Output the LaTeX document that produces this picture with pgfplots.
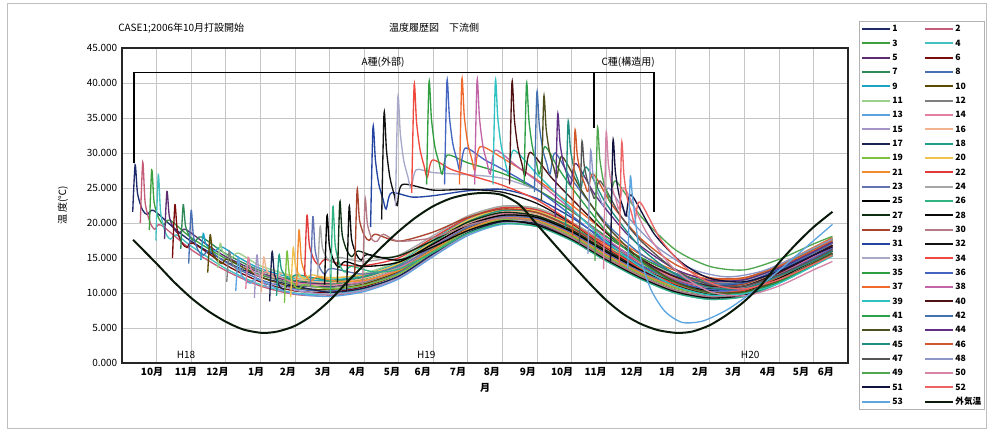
\documentclass[border=0pt]{standalone}
\usepackage{fontspec}
\setmainfont{Noto Sans CJK JP}
\usepackage{pgfplots}
\pgfplotsset{compat=1.18}
\newcommand\fs{\fontsize{7.5}{9}\selectfont}
\definecolor{c1}{HTML}{1F2A6B}\definecolor{c2}{HTML}{C45C7A}\definecolor{c3}{HTML}{3DA03D}\definecolor{c4}{HTML}{45C1C1}
\definecolor{c5}{HTML}{5B2C6F}\definecolor{c6}{HTML}{7A0C0C}\definecolor{c7}{HTML}{2E8B57}\definecolor{c8}{HTML}{4A6FB5}
\definecolor{c9}{HTML}{1FA3C4}\definecolor{c10}{HTML}{5C4A00}\definecolor{c11}{HTML}{9CCF8A}\definecolor{c12}{HTML}{7F7F7F}
\definecolor{c13}{HTML}{5BA3E0}\definecolor{c14}{HTML}{E27FA0}\definecolor{c15}{HTML}{A594C8}\definecolor{c16}{HTML}{F2B38F}
\definecolor{c17}{HTML}{1B2450}\definecolor{c18}{HTML}{1E9E85}\definecolor{c19}{HTML}{7CC242}\definecolor{c20}{HTML}{F2C14E}
\definecolor{c21}{HTML}{F28A30}\definecolor{c22}{HTML}{E03A3A}\definecolor{c23}{HTML}{6272B3}\definecolor{c24}{HTML}{A6A6A6}
\definecolor{c25}{HTML}{000000}\definecolor{c26}{HTML}{2FB482}\definecolor{c27}{HTML}{0E2E12}\definecolor{c28}{HTML}{0A0A0A}
\definecolor{c29}{HTML}{A8432E}\definecolor{c30}{HTML}{B47A86}\definecolor{c31}{HTML}{2344A0}\definecolor{c32}{HTML}{111111}
\definecolor{c33}{HTML}{A8A8C8}\definecolor{c34}{HTML}{F04A3E}\definecolor{c35}{HTML}{2E9E3E}\definecolor{c36}{HTML}{4465C2}
\definecolor{c37}{HTML}{F06A2E}\definecolor{c38}{HTML}{C265A8}\definecolor{c39}{HTML}{2EC2C2}\definecolor{c40}{HTML}{4E1212}
\definecolor{c41}{HTML}{2EA04A}\definecolor{c42}{HTML}{4571B0}\definecolor{c43}{HTML}{4E4E1E}\definecolor{c44}{HTML}{5E2F84}
\definecolor{c45}{HTML}{1F8E7E}\definecolor{c46}{HTML}{D2572A}\definecolor{c47}{HTML}{555555}\definecolor{c48}{HTML}{8C97C7}
\definecolor{c49}{HTML}{4FA64F}\definecolor{c50}{HTML}{D584A6}\definecolor{c51}{HTML}{12123E}\definecolor{c52}{HTML}{EE6464}
\definecolor{c53}{HTML}{5EA6E2}\definecolor{amb}{HTML}{0A1A0A}
\begin{document}
\begin{tikzpicture}
\path[use as bounding box] (0pt,0pt) rectangle (740.25pt,323.25pt);
\draw[gray!50, line width=0.5pt] (5.25pt,2.25pt) rectangle (739.5pt,321pt);
\node[anchor=west, font=\fs, inner sep=0pt] at (88.5pt,302.25pt) {CASE1;2006年10月打設開始};
\node[font=\fs, inner sep=0pt] at (325.5pt,302.25pt) {温度履歴図　下流側};
\begin{axis}[
  at={(91.5pt,51pt)}, anchor=south west,
  scale only axis, width=544.5pt, height=236.25pt,
  xmin=0, xmax=21, ymin=0, ymax=45,
  xtick={0.87,1.85,2.76,3.88,4.8,5.81,6.8,7.81,8.7,9.72,10.7,11.74,12.73,13.7,14.75,15.77,16.72,17.68,18.68,19.64,20.36},
  xticklabels={10月,11月,12月,1月,2月,3月,4月,5月,6月,7月,8月,9月,10月,11月,12月,1月,2月,3月,4月,5月,6月},
  minor xtick={1,2,...,20},
  xminorgrids=true, xmajorgrids=false, ymajorgrids=true,
  major tick length=0pt, minor tick length=0pt,
  ytick={0,5,...,45},
  grid style={gray!45, line width=0.4pt},
  minor grid style={gray!45, line width=0.4pt},
  axis line style={line width=0.9pt, black!85},
  tick label style={font=\fs},
  xticklabel style={font=\fs\bfseries},
  yticklabel style={/pgf/number format/.cd, fixed, fixed zerofill, precision=3, assume math mode=true},
  ylabel={温\ 度(℃)}, xlabel={月},
  every axis y label/.style={at={(axis description cs:-0.0813,0.5)}, rotate=90, anchor=center, font=\fs},
  every axis x label/.style={at={(axis description cs:0.5,-0.079)}, anchor=center, font=\fs\bfseries},
  no markers,
  every axis plot/.append style={line width=1.0pt, smooth, tension=0.45},
  legend columns=2,
  legend cell align=left,
  legend image code/.code={\draw[#1, line width=1.4pt] (0pt,0pt) -- (21pt,0pt);},
  legend style={at={(1.1887,1.0857)}, anchor=north east, draw=gray!60, fill=white,
    font=\fontsize{6.5}{7.5}\selectfont\bfseries, inner sep=1.5pt, row sep=2.25pt,
    nodes={inner sep=1pt, text height=5.5pt, text depth=1pt},
    /tikz/every even column/.append style={column sep=15pt}},
]
\addplot[c1] coordinates {(0.31,21.6)(0.38,28.3)(0.45,24.2)(0.59,21.9)(0.73,21.2)(0.91,21.8)(1.5,19.3)(2,17.4)(3,14.5)(4,12.3)(5,11.1)(6,10.9)(7,11.7)(8,13.5)(9,16.7)(10,19.7)(11,21.3)(12,21.0)(13,19.0)(14,16.1)(15,13.5)(16,11.5)(17,10.6)(18,11.0)(19,12.9)(20,15.4)(20.55,16.8)};\addlegendentry{1}
\addplot[c2] coordinates {(0.53,20.0)(0.60,28.7)(0.67,22.9)(0.81,20.1)(0.95,19.1)(1.13,19.7)(2,16.2)(3,13.2)(4,11.0)(5,9.8)(6,9.6)(7,10.4)(8,12.2)(9,15.4)(10,18.4)(11,20.0)(12,19.7)(13,17.7)(14,14.8)(15,12.2)(16,10.2)(17,9.3)(18,9.7)(19,11.6)(20,14.1)(20.55,15.5)};\addlegendentry{2}
\addplot[c3] coordinates {(0.79,19.0)(0.86,27.6)(0.93,22.9)(1.07,20.6)(1.21,19.8)(1.39,20.4)(2,17.9)(3,14.9)(4,12.6)(5,11.4)(6,11.2)(7,12.0)(8,13.8)(9,17.0)(10,20.0)(11,21.6)(12,21.3)(13,19.3)(14,16.4)(15,13.8)(16,11.8)(17,10.9)(18,11.3)(19,13.2)(20,15.7)(20.55,17.1)};\addlegendentry{3}
\addplot[c4] coordinates {(0.98,17.5)(1.05,26.9)(1.12,21.4)(1.26,18.6)(1.40,17.7)(1.58,18.3)(2,16.7)(3,13.5)(4,11.2)(5,10.0)(6,9.8)(7,10.6)(8,12.4)(9,15.6)(10,18.6)(11,20.2)(12,19.9)(13,17.9)(14,15.0)(15,12.4)(16,10.4)(17,9.5)(18,9.9)(19,11.8)(20,14.3)(20.55,15.7)};\addlegendentry{4}
\addplot[c5] coordinates {(1.23,17.7)(1.30,24.5)(1.37,20.9)(1.51,19.1)(1.65,18.5)(1.83,19.1)(2.4,17.1)(3,15.2)(4,12.9)(5,11.6)(6,11.4)(7,12.2)(8,14.0)(9,17.2)(10,20.2)(11,21.8)(12,21.5)(13,19.5)(14,16.6)(15,14.0)(16,12.0)(17,11.1)(18,11.5)(19,13.4)(20,15.9)(20.55,17.3)};\addlegendentry{5}
\addplot[c6] coordinates {(1.46,15.0)(1.53,22.6)(1.60,18.9)(1.74,17.1)(1.88,16.5)(2.06,17.1)(3,14.0)(4,11.6)(5,10.3)(6,10.1)(7,10.9)(8,12.7)(9,15.9)(10,18.9)(11,20.5)(12,20.2)(13,18.2)(14,15.3)(15,12.7)(16,10.7)(17,9.8)(18,10.2)(19,12.1)(20,14.6)(20.55,16.0)};\addlegendentry{6}
\addplot[c7] coordinates {(1.70,16.3)(1.77,22.6)(1.84,19.5)(1.98,17.9)(2.12,17.4)(2.30,18.0)(3,15.6)(4,13.2)(5,11.8)(6,11.6)(7,12.4)(8,14.2)(9,17.4)(10,20.4)(11,22.0)(12,21.7)(13,19.7)(14,16.8)(15,14.2)(16,12.2)(17,11.3)(18,11.7)(19,13.6)(20,16.1)(20.55,17.5)};\addlegendentry{7}
\addplot[c8] coordinates {(1.93,14.2)(2.00,21.8)(2.07,18.0)(2.21,16.0)(2.35,15.4)(2.53,16.0)(3,14.4)(4,11.9)(5,10.6)(6,10.3)(7,11.1)(8,12.9)(9,16.1)(10,19.1)(11,20.7)(12,20.4)(13,18.4)(14,15.5)(15,12.9)(16,10.9)(17,10.0)(18,10.4)(19,12.3)(20,14.8)(20.55,16.2)};\addlegendentry{8}
\addplot[c9] coordinates {(2.28,14.7)(2.35,18.5)(2.42,17.0)(2.56,16.3)(2.70,16.0)(2.88,16.6)(3.4,15.0)(4,13.5)(5,12.1)(6,11.8)(7,12.6)(8,14.4)(9,17.6)(10,20.6)(11,22.2)(12,21.9)(13,19.9)(14,17.0)(15,14.4)(16,12.4)(17,11.5)(18,11.9)(19,13.8)(20,16.3)(20.55,17.7)};\addlegendentry{9}
\addplot[c10] coordinates {(2.48,12.9)(2.55,18.3)(2.62,15.8)(2.76,14.6)(2.90,14.2)(3.08,14.8)(4,12.3)(5,10.8)(6,10.5)(7,11.3)(8,13.1)(9,16.3)(10,19.3)(11,20.9)(12,20.6)(13,18.6)(14,15.7)(15,13.1)(16,11.1)(17,10.2)(18,10.6)(19,12.5)(20,15.0)(20.55,16.4)};\addlegendentry{10}
\addplot[c11] coordinates {(2.77,13.6)(2.84,17.1)(2.91,15.9)(3.05,15.3)(3.19,15.1)(3.37,15.7)(4,13.9)(5,12.4)(6,12.0)(7,12.8)(8,14.6)(9,17.8)(10,20.8)(11,22.4)(12,22.1)(13,20.1)(14,17.2)(15,14.6)(16,12.6)(17,11.7)(18,12.1)(19,14.0)(20,16.5)(20.55,17.9)};\addlegendentry{11}
\addplot[c12] coordinates {(3.03,11.6)(3.10,16.0)(3.17,14.3)(3.31,13.5)(3.45,13.2)(3.63,13.8)(4.3,12.2)(5,11.2)(6,10.8)(7,11.5)(8,13.3)(9,16.5)(10,19.5)(11,21.1)(12,20.8)(13,18.8)(14,15.9)(15,13.3)(16,11.3)(17,10.4)(18,10.8)(19,12.7)(20,15.2)(20.55,16.6)};\addlegendentry{12}
\addplot[c13] coordinates {(3.29,10.3)(3.36,15.1)(3.43,12.9)(3.57,11.8)(3.71,11.4)(3.89,12.0)(4.5,10.6)(5,9.9)(6,9.5)(7,10.2)(8,12.0)(9,15.2)(10,18.2)(11,19.8)(12,19.5)(13,17.5)(14,14.6)(15,12.0)(16,10.0)(17,9.1)(18,9.5)(19,11.4)(20,13.9)(20.55,15.3)};\addlegendentry{13}
\addplot[c14] coordinates {(3.58,10.6)(3.65,15.1)(3.72,13.5)(3.86,12.7)(4.00,12.4)(4.18,13.0)(5,11.5)(6,11.1)(7,11.7)(8,13.5)(9,16.7)(10,19.7)(11,21.3)(12,21.0)(13,19.0)(14,16.1)(15,13.5)(16,11.5)(17,10.6)(18,11.0)(19,12.9)(20,15.4)(20.55,16.8)};\addlegendentry{14}
\addplot[c15] coordinates {(3.83,9.3)(3.90,15.4)(3.97,12.6)(4.11,11.3)(4.25,10.8)(4.43,11.4)(5,10.4)(6,9.8)(7,10.4)(8,12.2)(9,15.4)(10,18.4)(11,20.0)(12,19.7)(13,17.7)(14,14.8)(15,12.2)(16,10.2)(17,9.3)(18,9.7)(19,11.6)(20,14.1)(20.55,15.5)};\addlegendentry{15}
\addplot[c16] coordinates {(4.03,10.1)(4.10,15.1)(4.17,13.4)(4.31,12.5)(4.45,12.2)(4.63,12.8)(5.2,11.9)(6,11.5)(7,12.1)(8,13.8)(9,17.0)(10,20.0)(11,21.6)(12,21.3)(13,19.3)(14,16.4)(15,13.8)(16,11.8)(17,10.9)(18,11.3)(19,13.2)(20,15.7)(20.55,17.1)};\addlegendentry{16}
\addplot[c17] coordinates {(4.27,8.8)(4.34,15.9)(4.41,12.7)(4.55,11.0)(4.69,10.5)(4.87,11.1)(6,10.1)(7,10.7)(8,12.4)(9,15.6)(10,18.6)(11,20.2)(12,19.9)(13,17.9)(14,15.0)(15,12.4)(16,10.4)(17,9.5)(18,9.9)(19,11.8)(20,14.3)(20.55,15.7)};\addlegendentry{17}
\addplot[c18] coordinates {(4.47,9.6)(4.54,15.4)(4.61,13.4)(4.75,12.3)(4.89,12.0)(5.07,12.6)(6,11.8)(7,12.3)(8,14.0)(9,17.2)(10,20.2)(11,21.8)(12,21.5)(13,19.5)(14,16.6)(15,14.0)(16,12.0)(17,11.1)(18,11.5)(19,13.4)(20,15.9)(20.55,17.3)};\addlegendentry{18}
\addplot[c19] coordinates {(4.70,8.6)(4.77,15.9)(4.84,12.7)(4.98,11.1)(5.12,10.6)(5.30,11.2)(6,10.6)(7,11.1)(8,12.7)(9,15.9)(10,18.9)(11,20.5)(12,20.2)(13,18.2)(14,15.3)(15,12.7)(16,10.7)(17,9.8)(18,10.2)(19,12.1)(20,14.6)(20.55,16.0)};\addlegendentry{19}
\addplot[c20] coordinates {(4.88,9.4)(4.95,16.4)(5.02,13.8)(5.16,12.4)(5.30,12.0)(5.48,12.6)(6,12.2)(7,12.6)(8,14.2)(9,17.4)(10,20.4)(11,22.0)(12,21.7)(13,19.7)(14,16.8)(15,14.2)(16,12.2)(17,11.3)(18,11.7)(19,13.6)(20,16.1)(20.55,17.5)};\addlegendentry{20}
\addplot[c21] coordinates {(5.05,11.0)(5.12,19.0)(5.19,14.6)(5.33,12.4)(5.47,11.7)(5.65,12.3)(6.2,11.7)(7,11.8)(8,13.2)(9,16.2)(10,19.1)(11,20.7)(12,20.4)(13,18.4)(14,15.5)(15,12.9)(16,10.9)(17,10.0)(18,10.4)(19,12.3)(20,14.8)(20.55,16.2)};\addlegendentry{21}
\addplot[c22] coordinates {(5.28,12.4)(5.35,21.1)(5.42,16.8)(5.56,14.7)(5.70,14.0)(5.88,14.8)(6.4,14.0)(7,13.9)(8,15.0)(9,17.9)(10,20.7)(11,22.2)(12,21.9)(13,19.9)(14,17.0)(15,14.4)(16,12.4)(17,11.5)(18,11.9)(19,13.8)(20,16.3)(20.55,17.7)};\addlegendentry{22}
\addplot[c23] coordinates {(5.45,11.0)(5.52,20.9)(5.59,16.0)(5.73,13.5)(5.87,12.7)(6.05,13.5)(7,12.7)(8,13.8)(9,16.6)(10,19.4)(11,20.9)(12,20.6)(13,18.6)(14,15.7)(15,13.1)(16,11.1)(17,10.2)(18,10.6)(19,12.5)(20,15.0)(20.55,16.4)};\addlegendentry{23}
\addplot[c24] coordinates {(5.66,12.5)(5.73,19.5)(5.80,16.4)(5.94,14.9)(6.08,14.4)(6.26,15.1)(7,14.5)(8,15.4)(9,18.2)(10,21.0)(11,22.4)(12,22.1)(13,20.1)(14,17.2)(15,14.6)(16,12.6)(17,11.7)(18,12.1)(19,14.0)(20,16.5)(20.55,17.9)};\addlegendentry{24}
\addplot[c25] coordinates {(5.86,11.2)(5.93,21.1)(6.00,16.7)(6.14,14.4)(6.28,13.7)(6.46,14.5)(7,13.8)(8,14.4)(9,17.0)(10,19.7)(11,21.1)(12,20.8)(13,18.8)(14,15.9)(15,13.3)(16,11.3)(17,10.4)(18,10.8)(19,12.7)(20,15.2)(20.55,16.6)};\addlegendentry{25}
\addplot[c26] coordinates {(6.03,9.9)(6.10,22.3)(6.17,16.7)(6.31,13.9)(6.45,13.0)(6.63,13.8)(7.3,13.0)(8,13.4)(9,15.8)(10,18.5)(11,19.9)(12,19.5)(13,17.5)(14,14.6)(15,12.0)(16,10.0)(17,9.1)(18,9.5)(19,11.4)(20,13.9)(20.55,15.3)};\addlegendentry{26}
\addplot[c27] coordinates {(6.23,11.5)(6.30,23.0)(6.37,18.3)(6.51,16.0)(6.65,15.2)(6.83,16.0)(7.4,15.1)(8,15.3)(9,17.5)(10,20.1)(11,21.5)(12,21.0)(13,19.0)(14,16.1)(15,13.5)(16,11.5)(17,10.6)(18,11.0)(19,12.9)(20,15.4)(20.55,16.8)};\addlegendentry{27}
\addplot[c28] coordinates {(6.50,10.4)(6.57,22.3)(6.64,17.7)(6.78,15.5)(6.92,14.7)(7.10,15.5)(8,14.7)(9,16.6)(10,18.9)(11,20.3)(12,19.7)(13,17.7)(14,14.8)(15,12.2)(16,10.2)(17,9.3)(18,9.7)(19,11.6)(20,14.1)(20.55,15.5)};\addlegendentry{28}
\addplot[c29] coordinates {(6.73,12.3)(6.80,24.7)(6.87,20.4)(7.01,18.2)(7.15,17.5)(7.33,18.4)(8,17.4)(9,18.7)(10,20.8)(11,22.0)(12,21.5)(13,19.3)(14,16.4)(15,13.8)(16,11.8)(17,10.9)(18,11.3)(19,13.2)(20,15.7)(20.55,17.1)};\addlegendentry{29}
\addplot[c30] coordinates {(6.96,11.1)(7.03,23.3)(7.10,19.8)(7.24,17.6)(7.38,17.4)(7.56,18.4)(8,17.4)(9,17.9)(10,19.7)(11,20.7)(12,20.1)(13,17.9)(14,15.0)(15,12.4)(16,10.4)(17,9.5)(18,9.9)(19,11.8)(20,14.3)(20.55,15.7)};\addlegendentry{30}
\addplot[c31] coordinates {(7.19,19.4)(7.26,33.7)(7.33,29.0)(7.43,25.5)(7.55,23.4)(7.64,22.0)(7.79,24.3)(8.4,23.7)(9,23.9)(10,24.6)(11,24.8)(12,23.5)(13,20.8)(14,17.5)(15,14.6)(16,12.4)(17,11.1)(18,11.5)(19,13.4)(20,15.9)(20.55,17.3)};\addlegendentry{31}
\addplot[c32] coordinates {(7.51,20.5)(7.58,35.7)(7.65,30.4)(7.75,26.5)(7.87,24.1)(7.96,22.5)(8.11,25.5)(9,24.7)(10,24.8)(11,24.4)(12,22.8)(13,20.0)(14,16.5)(15,13.5)(16,11.2)(17,9.8)(18,10.2)(19,12.1)(20,14.6)(20.55,16.0)};\addlegendentry{32}
\addplot[c33] coordinates {(7.91,22.4)(7.98,38.0)(8.05,32.8)(8.15,28.9)(8.27,26.6)(8.36,25.0)(8.51,27.6)(9,27.2)(10,26.9)(11,26.4)(12,24.7)(13,21.7)(14,18.1)(15,15.1)(16,12.8)(17,11.7)(18,11.7)(19,13.6)(20,16.1)(20.55,17.5)};\addlegendentry{33}
\addplot[c34] coordinates {(8.38,24.3)(8.45,39.7)(8.52,34.4)(8.62,30.5)(8.74,28.1)(8.83,26.5)(8.98,29.0)(9.5,27.7)(10,26.9)(11,25.4)(12,23.3)(13,20.1)(14,16.6)(15,13.5)(16,11.3)(17,10.0)(18,10.4)(19,12.3)(20,14.8)(20.55,16.2)};\addlegendentry{34}
\addplot[c35] coordinates {(8.81,25.5)(8.88,40.1)(8.95,34.9)(9.05,30.9)(9.17,28.6)(9.26,27.0)(9.41,29.7)(10,28.6)(11,27.1)(12,24.8)(13,21.7)(14,18.1)(15,15.1)(16,12.8)(17,11.7)(18,11.9)(19,13.8)(20,16.3)(20.55,17.7)};\addlegendentry{35}
\addplot[c36] coordinates {(9.33,25.5)(9.40,40.3)(9.47,35.2)(9.57,31.3)(9.69,29.0)(9.78,27.5)(9.93,30.7)(10.5,29.0)(11,27.7)(12,24.8)(13,21.1)(14,17.2)(15,14.0)(16,11.7)(17,10.5)(18,10.6)(19,12.5)(20,15.0)(20.55,16.4)};\addlegendentry{36}
\addplot[c37] coordinates {(9.76,25.5)(9.83,40.5)(9.90,35.3)(10.00,31.4)(10.12,29.1)(10.21,27.5)(10.36,30.9)(11,29.3)(12,26.2)(13,22.6)(14,18.7)(15,15.5)(16,13.2)(17,12.0)(18,12.1)(19,14.0)(20,16.5)(20.55,17.9)};\addlegendentry{37}
\addplot[c38] coordinates {(10.20,25.5)(10.27,40.4)(10.34,35.0)(10.44,31.0)(10.56,28.6)(10.65,27.0)(10.80,30.4)(11.4,28.2)(12,26.0)(13,21.9)(14,17.8)(15,14.4)(16,12.0)(17,10.8)(18,10.8)(19,12.7)(20,15.2)(20.55,16.6)};\addlegendentry{38}
\addplot[c39] coordinates {(10.73,25.5)(10.80,40.3)(10.87,35.0)(10.97,31.0)(11.09,28.6)(11.18,27.0)(11.33,30.4)(12,27.0)(13,22.1)(14,17.4)(15,13.7)(16,11.0)(17,9.7)(18,9.9)(19,11.4)(20,13.9)(20.55,15.3)};\addlegendentry{39}
\addplot[c40] coordinates {(11.21,25.5)(11.28,40.1)(11.35,34.8)(11.45,30.8)(11.57,28.4)(11.66,26.8)(11.81,30.1)(12.4,26.6)(13,23.5)(14,18.6)(15,14.9)(16,12.3)(17,11.0)(18,11.0)(19,12.9)(20,15.4)(20.55,16.8)};\addlegendentry{40}
\addplot[c41] coordinates {(11.63,25.5)(11.70,39.9)(11.77,34.7)(11.87,30.9)(11.99,28.5)(12.08,27.0)(12.23,30.9)(12.6,28.0)(13,25.1)(14,18.9)(15,14.5)(16,11.5)(17,10.0)(18,10.1)(19,11.6)(20,14.1)(20.55,15.5)};\addlegendentry{41}
\addplot[c42] coordinates {(11.93,24.4)(12.00,38.6)(12.07,34.0)(12.17,30.5)(12.29,28.4)(12.38,27.0)(12.53,30.0)(13,26.3)(14,20.0)(15,15.6)(16,12.8)(17,11.4)(18,11.5)(19,13.2)(20,15.7)(20.55,17.1)};\addlegendentry{42}
\addplot[c43] coordinates {(12.13,23.2)(12.20,38.0)(12.27,33.4)(12.37,30.0)(12.49,27.9)(12.58,26.5)(12.73,29.5)(13.3,24.6)(14,19.7)(15,14.8)(16,11.6)(17,10.1)(18,10.2)(19,11.8)(20,14.3)(20.55,15.7)};\addlegendentry{43}
\addplot[c44] coordinates {(12.53,20.8)(12.60,35.4)(12.67,31.4)(12.77,28.5)(12.89,26.7)(12.98,25.5)(13.13,28.5)(13.7,23.9)(14.5,19.0)(15,16.7)(16,13.4)(17,11.8)(18,11.9)(19,13.6)(20,15.9)(20.55,17.3)};\addlegendentry{44}
\addplot[c45] coordinates {(12.83,19.3)(12.90,34.3)(12.97,30.6)(13.07,27.8)(13.19,26.1)(13.28,25.0)(13.43,28.0)(14,22.8)(15,16.5)(16,12.7)(17,10.8)(18,10.7)(19,12.4)(20,14.6)(20.55,16.0)};\addlegendentry{45}
\addplot[c46] coordinates {(13.03,18.1)(13.10,33.0)(13.17,29.6)(13.27,27.1)(13.39,25.5)(13.48,24.5)(13.63,27.0)(14.2,22.4)(15,17.8)(16,14.1)(17,12.2)(18,12.2)(19,13.8)(20,16.1)(20.55,17.5)};\addlegendentry{46}
\addplot[c47] coordinates {(13.23,17.0)(13.30,31.4)(13.37,28.2)(13.47,25.9)(13.59,24.4)(13.68,23.5)(13.83,26.0)(14.4,21.2)(15,17.5)(16,13.3)(17,11.2)(18,11.0)(19,12.6)(20,14.8)(20.55,16.2)};\addlegendentry{47}
\addplot[c48] coordinates {(13.48,15.6)(13.55,30.1)(13.62,27.1)(13.72,24.8)(13.84,23.4)(13.93,22.5)(14.08,25.0)(14.7,20.5)(15.5,16.5)(16.5,13.4)(17.5,12.3)(18.5,13.1)(19.5,15.2)(20.55,17.7)};\addlegendentry{48}
\addplot[c49] coordinates {(13.68,14.6)(13.75,33.3)(13.82,29.2)(13.92,26.1)(14.04,24.2)(14.13,23.0)(14.28,26.0)(15,21.0)(16,16.2)(17,13.8)(18,13.3)(19,14.8)(20,17.0)(20.55,18.1)};\addlegendentry{49}
\addplot[c50] coordinates {(13.93,13.4)(14.00,32.6)(14.07,28.4)(14.17,25.2)(14.29,23.3)(14.38,22.0)(14.53,25.0)(15.2,18.4)(16,13.3)(17,10.2)(18,9.6)(19,11.0)(20,13.3)(20.55,14.5)};\addlegendentry{50}
\addplot[c51] coordinates {(14.13,14.5)(14.20,31.6)(14.27,27.4)(14.37,24.2)(14.49,22.3)(14.58,21.0)(14.73,24.0)(15.4,18.4)(16.2,14.3)(17,12.1)(18,11.6)(19,13.1)(20,15.4)(20.55,16.6)};\addlegendentry{51}
\addplot[c52] coordinates {(14.38,14.0)(14.45,31.3)(14.52,26.8)(14.62,23.4)(14.74,21.4)(14.83,20.0)(14.98,23.0)(15.6,17.5)(16.4,13.2)(17.2,11.1)(18,10.6)(19,11.9)(20,14.1)(20.55,15.4)};\addlegendentry{52}
\addplot[c53] coordinates {(14.63,13.5)(14.70,26.4)(14.76,24.0)(14.86,20.0)(15.0,15.0)(15.3,10.5)(15.7,7.4)(16.2,5.8)(16.8,6.0)(17.5,7.6)(18.2,10.0)(19.0,13.2)(19.8,16.6)(20.55,19.8)};\addlegendentry{53}
\addplot[amb, line width=1.5pt] coordinates {(0.32,17.6)(1,14.2)(1.5,11.6)(2,9.3)(2.5,7.4)(3,5.9)(3.5,4.8)(4.05,4.3)(4.5,4.5)(5,5.3)(5.5,6.8)(6,8.9)(6.5,11.5)(7,14.0)(7.5,16.5)(8,18.8)(8.5,20.8)(9,22.4)(9.5,23.5)(10,24.1)(10.5,24.3)(11,24.0)(11.5,22.6)(12,19.8)(12.5,17.0)(13,14.2)(13.5,11.5)(14,9.0)(14.5,7.0)(15,5.6)(15.5,4.7)(16.05,4.3)(16.5,4.5)(17,5.4)(17.5,6.9)(18,8.8)(18.5,11.2)(19,14.3)(19.5,17.0)(20,19.4)(20.55,21.6)};\addlegendentry{外気温}
\draw[black, line width=1pt] (axis cs:0.35,28.6) -- (axis cs:0.35,41.5) -- (axis cs:15.39,41.5) -- (axis cs:15.39,21.6);
\draw[black, line width=1pt] (axis cs:13.65,41.5) -- (axis cs:13.65,33.6);
\node[font=\fs] at (axis cs:7.55,43.0) {A種(外部)};
\node[font=\fs] at (axis cs:14.64,43.0) {C種(構造用)};
\node[font=\fs] at (axis cs:1.85,1.1) {H18};
\node[font=\fs] at (axis cs:8.8,1.1) {H19};
\node[font=\fs] at (axis cs:18.17,1.1) {H20};
\end{axis}
\end{tikzpicture}
\end{document}
